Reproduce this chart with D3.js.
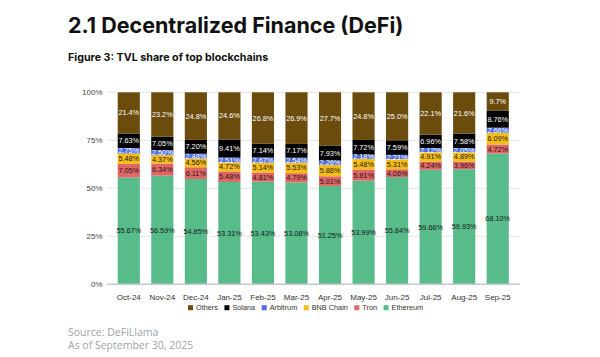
<!DOCTYPE html>
<html>
<head>
<meta charset="utf-8">
<script src="https://cdn.jsdelivr.net/npm/d3@7"></script>
<style>
  html, body { margin: 0; padding: 0; background: #fff; }
  svg { display: block; }
</style>
</head>
<body>
<svg id="chart" width="600" height="357"></svg>
<script>
const months = ["Oct-24","Nov-24","Dec-24","Jan-25","Feb-25","Mar-25","Apr-25","May-25","Jun-25","Jul-25","Aug-25","Sep-25"];
const ethereum = [55.67,56.59,54.85,53.31,53.43,53.08,51.25,53.99,55.84,59.66,59.93,68.10];
const tron     = [7.05,6.34,6.11,5.48,4.81,4.79,5.01,5.81,4.06,4.24,3.96,4.72];
const bnbChain = [5.48,4.37,4.56,4.72,5.14,5.53,5.86,5.48,5.31,4.91,4.89,6.09];
const arbitrum = [2.75,2.50,2.48,2.51,2.67,2.54,2.26,2.18,2.21,2.12,2.05,2.66];
const solana   = [7.63,7.05,7.20,9.41,7.14,7.17,7.93,7.72,7.59,6.96,7.58,8.76];
const others   = [21.4,23.2,24.8,24.6,26.8,26.9,27.7,24.8,25.0,22.1,21.6,9.7];
const yTicks = [0,25,50,75,100];

const seriesDefs = [
  {key:"Ethereum", values: ethereum, color:"#57bb8a", text:"#1a1a1a", digits:2},
  {key:"Tron", values: tron, color:"#e06666", text:"#1a1a1a", digits:2},
  {key:"BNB Chain", values: bnbChain, color:"#f6bd16", text:"#1a1a1a", digits:2},
  {key:"Arbitrum", values: arbitrum, color:"#4a6ef0", text:"#ffffff", digits:2},
  {key:"Solana", values: solana, color:"#000000", text:"#ffffff", digits:2},
  {key:"Others", values: others, color:"#6b4c0c", text:"#ffffff", digits:1}
];

const table = months.map((m,i) => {
  const row = {month:m};
  seriesDefs.forEach(s => row[s.key] = s.values[i]);
  return row;
});

const svg = d3.select("#chart");

// Titles
svg.append("text").attr("x",68).attr("y",33)
  .attr("font-family","Inter, 'Open Sans', sans-serif").attr("font-weight",700)
  .attr("font-size",21.5).attr("fill","#111")
  .text("2.1 Decentralized Finance (DeFi)");
svg.append("text").attr("x",68).attr("y",61)
  .attr("font-family","Inter, 'Open Sans', sans-serif").attr("font-weight",700)
  .attr("font-size",10.7).attr("fill","#111")
  .text("Figure 3: TVL share of top blockchains");

const x = d3.scaleBand().domain(months).range([112,514.5]).paddingInner(0.34).paddingOuter(0.17);
const y = d3.scaleLinear().domain([0,100]).range([284.3,92.3]);

// gridlines
svg.append("g").selectAll("line").data(yTicks.filter(t=>t>0)).join("line")
  .attr("x1",107).attr("x2",520)
  .attr("y1",d=>y(d)).attr("y2",d=>y(d))
  .attr("stroke","#e6e6e6").attr("stroke-width",1);

// y axis labels
const yAxis = d3.axisLeft(y).tickValues(yTicks).tickFormat(d=>d+"%").tickSize(0).tickPadding(0);
const yg = svg.append("g").attr("transform","translate(102.5,0)").call(yAxis);
yg.select(".domain").remove();
yg.selectAll("text").attr("font-family","'Liberation Sans', Arial, sans-serif").attr("font-size",8).attr("fill","#444");

const stack = d3.stack().keys(seriesDefs.map(s=>s.key));
const layers = stack(table);

const g = svg.append("g");
layers.forEach((layer, li) => {
  const def = seriesDefs[li];
  g.append("g").selectAll("rect").data(layer).join("rect")
    .attr("x", d => x(d.data.month))
    .attr("width", x.bandwidth())
    .attr("y", d => y(Math.min(100,d[1])))
    .attr("height", d => y(d[0]) - y(Math.min(100,d[1])))
    .attr("fill", def.color);
});
layers.forEach((layer, li) => {
  const def = seriesDefs[li];
  g.append("g").selectAll("text").data(layer).join("text")
    .attr("x", d => x(d.data.month) + x.bandwidth()/2)
    .attr("y", d => (y(d[0]) + y(Math.min(100,d[1])))/2)
    .attr("dy","0.35em")
    .attr("text-anchor","middle")
    .attr("font-family","'Liberation Sans', Arial, sans-serif")
    .attr("font-size",7.3)
    .attr("fill", def.text)
    .text(d => (d[1]-d[0]).toFixed(def.digits) + "%");
});

// baseline
svg.append("line").attr("x1",107).attr("x2",520).attr("y1",y(0)).attr("y2",y(0))
  .attr("stroke","#c8c8c8").attr("stroke-width",1.5);

// x axis labels
const xAxis = d3.axisBottom(x).tickSize(0).tickPadding(0);
const xg = svg.append("g").attr("transform",`translate(0,${y(0)+13})`).call(xAxis);
xg.select(".domain").remove();
xg.selectAll("text").attr("font-family","'Liberation Sans', Arial, sans-serif").attr("font-size",8).attr("fill","#333").attr("dy","0.3em");

// legend
const legendOrder = ["Others","Solana","Arbitrum","BNB Chain","Tron","Ethereum"];
const lg = svg.append("g").attr("transform","translate(188,307.7)");
let lx = 0;
legendOrder.forEach(k => {
  const def = seriesDefs.find(s=>s.key===k);
  lg.append("rect").attr("x",lx).attr("y",-2.5).attr("width",5).attr("height",5).attr("fill",def.color);
  const t = lg.append("text").attr("x",lx+8).attr("y",0).attr("dy","0.35em")
    .attr("font-family","'Liberation Sans', Arial, sans-serif").attr("font-size",7.3).attr("fill","#333").text(k);
  lx += 8 + t.node().getComputedTextLength() + 6.5;
});

// source
svg.append("text").attr("x",68).attr("y",336)
  .attr("font-family","'Open Sans', sans-serif").attr("font-size",10.5).attr("fill","#a0a4a8")
  .text("Source: DeFiLlama");
svg.append("text").attr("x",68).attr("y",348.5)
  .attr("font-family","'Open Sans', sans-serif").attr("font-size",10.5).attr("fill","#a0a4a8")
  .text("As of September 30, 2025");
</script>
</body>
</html>
